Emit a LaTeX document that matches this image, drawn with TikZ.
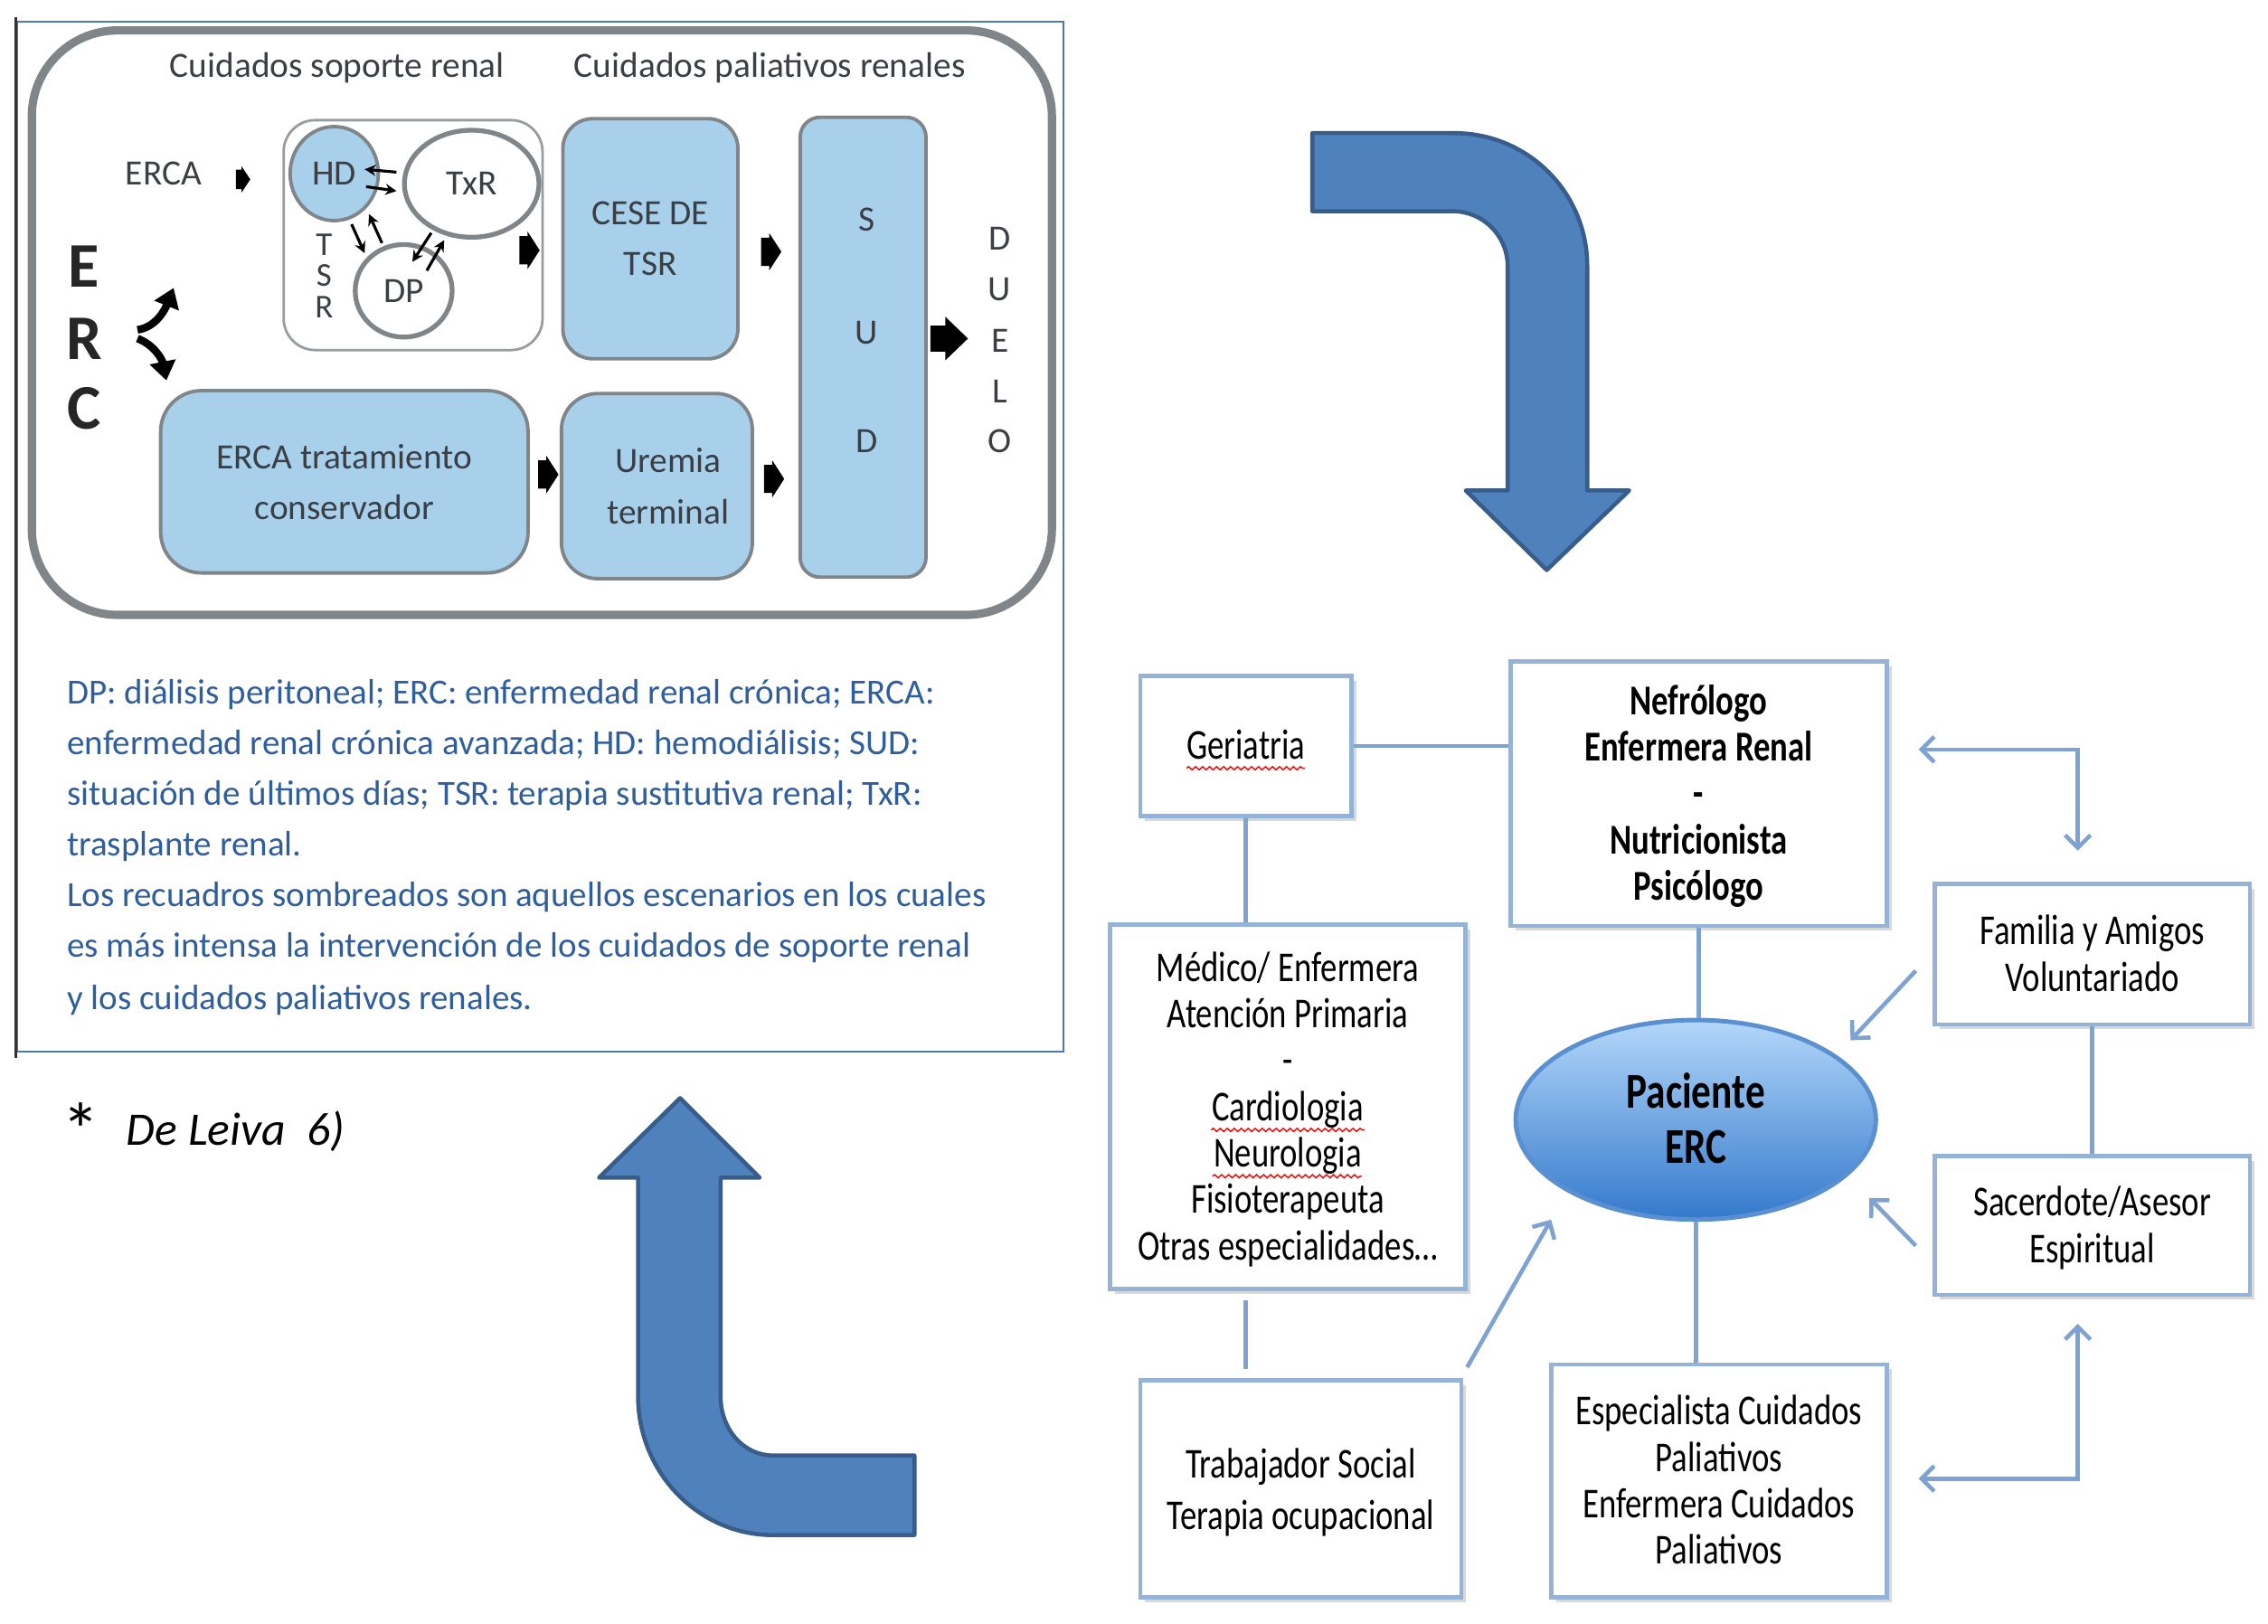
\documentclass[tikz,border=0pt]{standalone}
\usepackage{fontspec}
\setmainfont{Carlito}
\newfontfamily\rfont[FakeStretch=0.78]{Carlito}
\usetikzlibrary{arrows.meta,shapes.geometric,decorations.pathmorphing,shadows}
\definecolor{lblue}{HTML}{A9D0EB}
\definecolor{gborder}{HTML}{7F8588}
\definecolor{dtext}{HTML}{3A3F45}
\definecolor{legblue}{HTML}{2E5E9E}
\definecolor{framebl}{HTML}{4A78B0}
\definecolor{arrfill}{HTML}{4F81BD}
\definecolor{arrdraw}{HTML}{385D8A}
\definecolor{rboxc}{HTML}{95B3D7}
\definecolor{rline}{HTML}{7EA3D2}
\definecolor{pactop}{HTML}{B3D7FA}
\definecolor{pacmid}{HTML}{74AFEE}
\definecolor{pacbot}{HTML}{3479CC}
\definecolor{pacdraw}{HTML}{5A8FD0}
\newcommand\blkarr[5]{%
  \fill[black] (#1-#3/2, #2-#5*#4/2) -- (#1-0.1*#3, #2-#5*#4/2) -- (#1-0.1*#3, #2-#4/2)
    -- (#1+#3/2, #2) -- (#1-0.1*#3, #2+#4/2) -- (#1-0.1*#3, #2+#5*#4/2)
    -- (#1-#3/2, #2+#5*#4/2) -- cycle;}
% text block lowered a little inside its box, box size unchanged
\newcommand\rtext[2][-1.4pt]{\raisebox{#1}[\height][\depth]{\begin{tabular}{@{}c@{}}#2\end{tabular}}}
\tikzset{
  ltxt/.style={text=dtext, font=\fontsize{11.2}{13}\selectfont, inner sep=0pt, text height=1.5ex, text depth=.25ex},
  lbox/.style={draw=gborder, line width=1.1pt, fill=lblue, inner sep=0pt, text=dtext, align=center, font=\fontsize{11.2}{16}\selectfont},
  circnode/.style={ellipse, draw=gborder, line width=1.1pt, inner sep=0pt, text=dtext, font=\fontsize{11.2}{13}\selectfont},
  legtxt/.style={text=legblue, font=\fontsize{11.1}{13}\selectfont, anchor=west, inner sep=0pt, text height=1.5ex, text depth=.25ex},
  rbox/.style={draw=rboxc, line width=1.3pt, fill=white, inner sep=0pt, text=black, font=\rfont\fontsize{13.4}{14.6}\selectfont,
     drop shadow={shadow xshift=1.5pt, shadow yshift=-1.5pt, opacity=0.25, fill=black!60}},
  conn/.style={draw=rline, line width=1.3pt},
  conna/.style={conn, -{Straight Barb[length=4pt,width=8pt]}},
  connaa/.style={conn, {Straight Barb[length=4pt,width=8pt]}-{Straight Barb[length=4pt,width=8pt]}},
  bigarr/.style={fill=arrfill, draw=arrdraw, line width=1.3pt, line join=round},
  wavy/.style={draw=red, line width=0.4pt, decorate, decoration={snake, amplitude=0.5pt, segment length=2.2pt}},
  tinyarr/.style={line width=0.9pt, -{Stealth[length=3.5pt,width=3.5pt]}},
}
\begin{document}
\begin{tikzpicture}[x=0.016cm, y=-0.016cm]
\useasboundingbox (0,0) rectangle (1567.5,1121.9);
\fill[white] (0,0) rectangle (1567.5,1121.9);

% ---------- left panel ----------
\draw[framebl, line width=0.6pt] (12,15) rectangle (735,727);
\draw[black!80, line width=0.8pt] (11,12) -- (11,731);
\draw[gborder, line width=2.6pt, rounded corners=0.95cm] (22,21) rectangle (727,425);

\node[ltxt] (hdr1) at (233,47) {Cuidados soporte renal};
\node[ltxt] (hdr2) at (532,47) {Cuidados paliativos renales};
\node[ltxt] (erca) at (113,121) {ERCA};

\node[draw=gborder!80, line width=0.8pt, fill=white, rounded corners=0.35cm, inner sep=0pt,
  minimum width=2.864cm, minimum height=2.544cm] (tsr) at (285.5,162.5) {};
\node[circnode, fill=lblue, minimum width=0.976cm, minimum height=1.04cm] (hd) at (231,120) {HD};
\node[circnode, fill=white, line width=1.5pt, minimum width=1.488cm, minimum height=1.184cm] (txr) at (326,127) {TxR};
\node[circnode, fill=white, line width=1.5pt, minimum width=1.072cm, minimum height=1.024cm] (dp) at (279,201) {DP};
\node[ltxt, font=\fontsize{10.5}{12}\selectfont] (t1) at (224,170) {T};
\node[ltxt, font=\fontsize{10.5}{12}\selectfont] (t2) at (224,191) {S};
\node[ltxt, font=\fontsize{10.5}{12}\selectfont] (t3) at (224,213) {R};
\draw[tinyarr] (274,119) -- (252,117);
\draw[tinyarr] (253,129) -- (274,132);
\draw[tinyarr] (243,155) -- (252,175);
\draw[tinyarr] (264,168) -- (255,148);
\draw[tinyarr] (298,161) -- (285,181);
\draw[tinyarr] (295,187) -- (307,166);

\node[lbox, rounded corners=0.33cm, minimum width=1.936cm, minimum height=2.656cm] (cese) at (449.5,165) {CESE DE\\TSR};
\node[lbox, rounded corners=0.22cm, minimum width=1.392cm, minimum height=5.088cm] (sud) at (596.5,240) {};
\node[ltxt] (s1) at (599,153) {S};
\node[ltxt] (s2) at (599,231) {U};
\node[ltxt] (s3) at (599,306) {D};
\node[lbox, rounded corners=0.45cm, minimum width=4.064cm, minimum height=2.016cm] (trat) at (238,333) {ERCA tratamiento\\conservador};
\node[lbox, rounded corners=0.4cm, minimum width=2.112cm, minimum height=2.048cm] (urem) at (454,336) {\hspace*{0.25cm}Uremia\\\hspace*{0.25cm}terminal};

\node[ltxt] (d1) at (691,166) {D};
\node[ltxt] (d2) at (691,201) {U};
\node[ltxt] (d3) at (691,237) {E};
\node[ltxt] (d4) at (691,272) {L};
\node[ltxt] (d5) at (691,306) {O};

\node[ltxt, text=black!85, font=\bfseries\fontsize{20}{22}\selectfont] (e1) at (58,192) {E};
\node[ltxt, text=black!85, font=\bfseries\fontsize{20}{22}\selectfont] (e2) at (58,242) {R};
\node[ltxt, text=black!85, font=\bfseries\fontsize{20}{22}\selectfont] (e3) at (58,290) {C};

\draw[line width=2.4pt, -{Triangle[length=6pt,width=8pt]}] (95,228) .. controls (108,226) and (114,214) .. (120,199);
\draw[line width=2.4pt, -{Triangle[length=6pt,width=8pt]}] (95,234) .. controls (106,238) and (112,248) .. (115,263);

\blkarr{168}{124}{10}{18}{0.75}
\blkarr{366}{173}{14}{26}{0.75}
\blkarr{533}{174}{14}{26}{0.75}
\blkarr{656}{234}{26}{30}{0.6}
\blkarr{379}{328}{14}{26}{0.75}
\blkarr{535}{331}{14}{26}{0.75}

\node[legtxt] (l1) at (46,480) {DP: diálisis peritoneal; ERC: enfermedad renal crónica; ERCA:};
\node[legtxt] (l2) at (46,515) {enfermedad renal crónica avanzada; HD: hemodiálisis; SUD:};
\node[legtxt] (l3) at (46,550) {situación de últimos días; TSR: terapia sustitutiva renal; TxR:};
\node[legtxt] (l4) at (46,585) {trasplante renal.};
\node[legtxt] (l5) at (46,620) {Los recuadros sombreados son aquellos escenarios en los cuales};
\node[legtxt] (l6) at (46,655) {es más intensa la intervención de los cuidados de soporte renal};
\node[legtxt] (l7) at (46,691) {y los cuidados paliativos renales.};

\node[inner sep=0pt, font=\fontsize{24}{26}\selectfont] (star) at (56,781) {*};
\node[inner sep=0pt, anchor=west, font=\itshape\fontsize{14.7}{17}\selectfont, text height=1.5ex, text depth=.25ex] (leiva) at (87,785) {De Leiva\ \ 6)};

% ---------- big arrows ----------
\path[bigarr] (907,92) -- (1005,92) .. controls (1056,92) and (1097,133) .. (1097,184) -- (1097,339) -- (1126,339) -- (1069,394) -- (1013,339) -- (1042,339) -- (1042,184) .. controls (1042,163) and (1025,146) .. (1004,146) -- (907,146) -- cycle;
\path[bigarr] (470,759) -- (525,814) -- (498,814) -- (498,965) .. controls (498,988) and (514,1006) .. (534,1006) -- (632,1006) -- (632,1061) -- (534,1061) .. controls (483,1061) and (441,1018) .. (441,965) -- (441,814) -- (414,814) -- cycle;

% ---------- right panel ----------
\node[rbox, minimum width=2.336cm, minimum height=1.552cm] (ger) at (861,515.5) {\rtext{Geriatria}};
\node[rbox, font=\rfont\bfseries\fontsize{13.4}{14.6}\selectfont, minimum width=4.16cm, minimum height=2.928cm] (nef) at (1174,548.5) {\rtext{Nefrólogo\\Enfermera Renal\\-\\Nutricionista\\Psicólogo}};
\node[rbox, minimum width=3.936cm, minimum height=4.032cm] (med) at (890,765) {\rtext{Médico/ Enfermera\\Atención Primaria\\-\\Cardiologia\\Neurologia\\Fisioterapeuta\\Otras especialidades…}};
\node[rbox, minimum width=3.488cm, minimum height=1.552cm] (fam) at (1446,659.5) {\rtext{Familia y Amigos\\Voluntariado}};
\node[rbox, minimum width=3.488cm, minimum height=1.536cm] (sac) at (1446,847) {\rtext{Sacerdote/Asesor\\Espiritual}};
\node[rbox, font=\rfont\fontsize{13.4}{16.4}\selectfont, minimum width=3.552cm, minimum height=2.4cm] (trab) at (899,1029) {\rtext{Trabajador Social\\Terapia ocupacional}};
\node[rbox, minimum width=3.712cm, minimum height=2.576cm] (esp) at (1188,1023.5) {\rtext{Especialista Cuidados\\Paliativos\\Enfermera Cuidados\\Paliativos}};

\node[ellipse, draw=pacdraw, line width=1.4pt, top color=pactop, middle color=pacmid, bottom color=pacbot,
  minimum width=3.984cm, minimum height=2.208cm, inner sep=0pt,
  font=\rfont\bfseries\fontsize{15.8}{17.3}\selectfont] (pac) at (1172,774) {\rtext[-1.6pt]{Paciente\\ERC}};

\draw[wavy] (820,531) -- (902,531);
\draw[wavy] (837,781) -- (943,781);
\draw[wavy] (838,813) -- (941,813);

\coordinate (mt1) at (861,899);
\coordinate (mt2) at (861,946);
\coordinate (e1a) at (1326,518);
\coordinate (e1c) at (1436,518);
\coordinate (e1b) at (1436,588);
\coordinate (e2a) at (1326,1022);
\coordinate (e2c) at (1436,1022);
\coordinate (e2b) at (1436,915);
\coordinate (fa1) at (1324,671);
\coordinate (fa2) at (1279,719);
\coordinate (sa1) at (1324,861);
\coordinate (sa2) at (1292,828);
\coordinate (ta1) at (1014,945);
\coordinate (ta2) at (1072,843);

\draw[conn] (ger.east) -- (ger.east -| nef.west);
\draw[conn] (ger.south) -- (ger.south |- med.north);
\draw[conn] (mt1) -- (mt2);
\draw[conn] (nef.south) -- (nef.south |- pac.north);
\draw[conn] (pac.south) -- (pac.south |- esp.north);
\draw[conn] (fam.south) -- (sac.north);
\draw[connaa] (e1a) -- (e1c) -- (e1b);
\draw[connaa] (e2a) -- (e2c) -- (e2b);
\draw[conna] (fa1) -- (fa2);
\draw[conna] (sa1) -- (sa2);
\draw[conna] (ta1) -- (ta2);
\end{tikzpicture}
\end{document}
